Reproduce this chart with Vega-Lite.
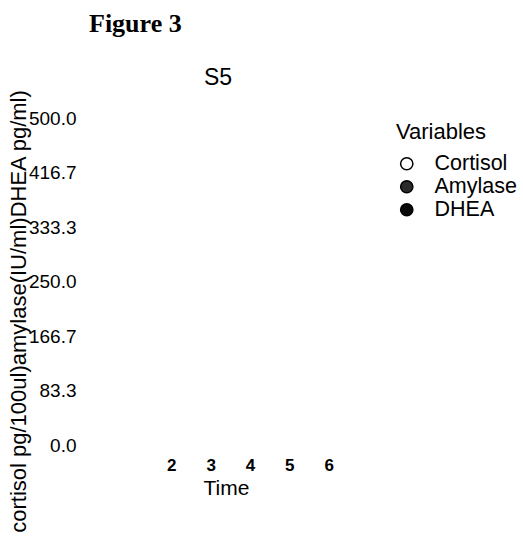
{
  "$schema": "https://vega.github.io/schema/vega-lite/v6.json",
  "background": "white",
  "padding": {"left": 6, "top": 11, "right": 0, "bottom": 0},
  "title": {"text": "Figure 3", "anchor": "start", "font": "Liberation Serif", "fontSize": 26, "fontWeight": "bold", "color": "black", "offset": 30, "dx": 82},
  "data": {"values": [
    {"Time": 2, "Variable": "Cortisol", "Value": null},
    {"Time": 3, "Variable": "Cortisol", "Value": null},
    {"Time": 4, "Variable": "Cortisol", "Value": null},
    {"Time": 5, "Variable": "Cortisol", "Value": null},
    {"Time": 6, "Variable": "Cortisol", "Value": null},
    {"Time": 2, "Variable": "Amylase", "Value": null},
    {"Time": 3, "Variable": "Amylase", "Value": null},
    {"Time": 4, "Variable": "Amylase", "Value": null},
    {"Time": 5, "Variable": "Amylase", "Value": null},
    {"Time": 6, "Variable": "Amylase", "Value": null},
    {"Time": 2, "Variable": "DHEA", "Value": null},
    {"Time": 3, "Variable": "DHEA", "Value": null},
    {"Time": 4, "Variable": "DHEA", "Value": null},
    {"Time": 5, "Variable": "DHEA", "Value": null},
    {"Time": 6, "Variable": "DHEA", "Value": null}
  ]},
  "vconcat": [{
    "width": 236,
    "height": 327,
    "title": {"text": "S5", "anchor": "middle", "frame": "group", "font": "Liberation Sans", "fontSize": 23, "fontWeight": "normal", "color": "black", "dx": -32, "offset": -1},
    "mark": {"type": "point", "shape": "circle", "filled": true, "opacity": 1, "stroke": "black", "strokeWidth": 1.5, "size": 150},
    "encoding": {
      "x": {"field": "Time", "type": "quantitative", "scale": {"domain": [1, 7], "nice": false, "zero": false},
        "axis": {"values": [2, 3, 4, 5, 6], "format": "d", "title": "Time", "labelFontSize": 17, "labelFontWeight": "bold", "labelPadding": 12,
          "titleFontSize": 21, "titleBaseline": "alphabetic", "titleX": 94, "titleY": 49, "titleAlign": "center"}},
      "y": {"field": "Value", "type": "quantitative", "scale": {"domain": [0, 500], "nice": false},
        "axis": {"values": [0, 83.3333, 166.6667, 250, 333.3333, 416.6667, 500], "format": ".1f", "title": "cortisol pg/100ul)amylase(IU/ml)DHEA pg/ml)",
          "labelFontSize": 19, "labelPadding": 56, "titleFontSize": 22, "titleBaseline": "alphabetic", "titleX": -107, "titleY": 193, "titleAlign": "center", "titleAngle": -90}},
      "fill": {"field": "Variable", "type": "nominal",
        "scale": {"domain": ["Cortisol", "Amylase", "DHEA"], "range": ["white", "#2b2b2b", "#0a0a0a"]},
        "legend": {"title": "Variables", "orient": "right", "offset": 24, "padding": 4, "titleFontSize": 22, "labelFontSize": 21.5, "titlePadding": 9,
          "labelOffset": 17, "rowPadding": 0, "symbolSize": 150, "symbolType": "circle", "symbolOpacity": 1, "symbolStrokeColor": "black", "symbolStrokeWidth": 1.5}}
    }
  }],
  "config": {
    "view": {"stroke": null},
    "font": "Liberation Sans",
    "axis": {"grid": false, "domain": false, "ticks": false, "labelColor": "black", "titleColor": "black", "labelFont": "Liberation Sans", "titleFont": "Liberation Sans", "titleFontWeight": "normal"},
    "legend": {"labelColor": "black", "titleColor": "black", "labelFont": "Liberation Sans", "titleFont": "Liberation Sans", "titleFontWeight": "normal"}
  }
}
